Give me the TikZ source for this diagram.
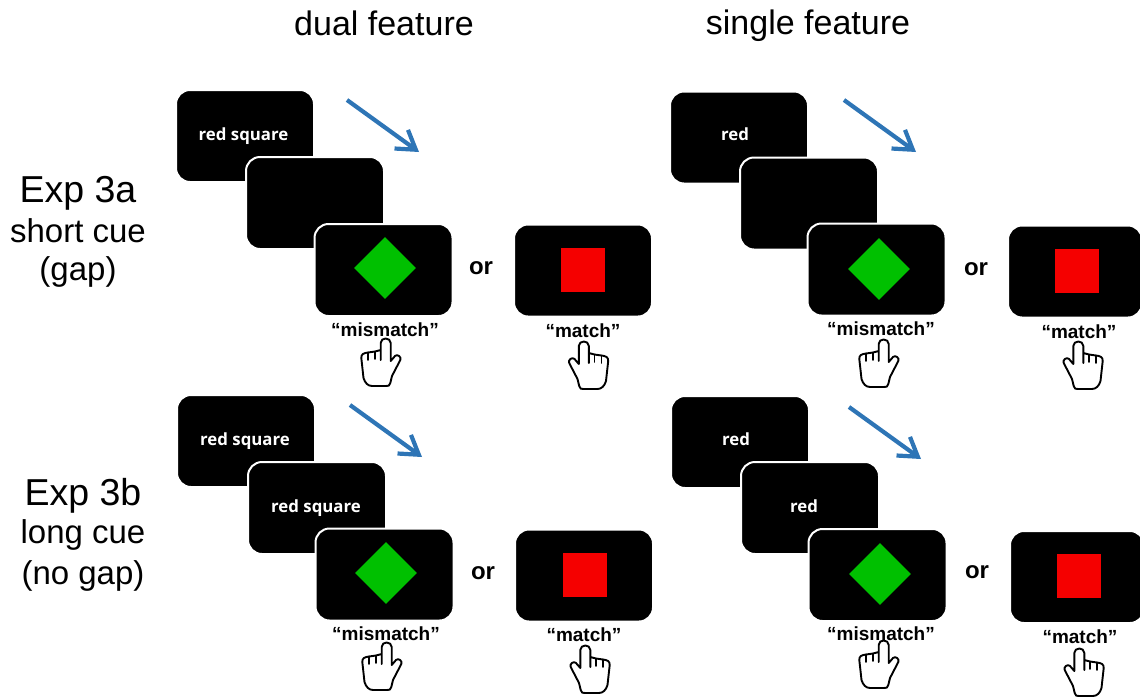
\documentclass[tikz,border=0pt]{standalone}
\usepackage{fontspec}
\setmainfont{Liberation Sans}
\newfontfamily\screenfont{Open Sans}
\usetikzlibrary{shapes.geometric}
\usetikzlibrary{arrows.meta}

\begin{document}
\begin{tikzpicture}[
  x=1pt, y=-1pt,
  screen/.style={draw=white,line width=2pt,fill=black,rounded corners=14pt,
    minimum width=138pt,minimum height=92pt,inner sep=0pt},
  cutscreen/.style={screen,minimum width=134pt},
  label/.style={text=white,font=\screenfont\bfseries\fontsize{16.8}{18}\selectfont},
  flow/.style={draw={rgb,255:red,46;green,117;blue,182},line width=4.2pt,
    -{Straight Barb[length=18pt,width=23pt,line width=4.2pt]}},
  greendiamond/.style={diamond,fill={rgb,255:red,0;green,192;blue,0},minimum size=62pt,inner sep=0pt},
  redsquare/.style={rectangle,fill={rgb,255:red,245;green,0;blue,0},minimum size=44pt,inner sep=0pt},
  heading/.style={font=\fontsize{34}{40}\selectfont},
  expname/.style={font=\fontsize{37.5}{42}\selectfont},
  cond/.style={font=\fontsize{33}{38}\selectfont},
  answer/.style={font=\bfseries\fontsize{19}{22}\selectfont},
  orword/.style={font=\bfseries\fontsize{24}{26}\selectfont},
  hand/.pic={
    \draw[line width=1.9pt,line join=round,line cap=round,fill=white]
      (-1.3,-3) -- (-1.3,-20) .. controls (-1.3,-26) and (8.7,-26) .. (8.7,-20)
      -- (8.7,-2) -- (13,-7) .. controls (15,-9.5) and (20,-6) .. (18.3,-3)
      -- (10,13) -- (8.3,20) .. controls (8,23) and (6,23) .. (4,23)
      -- (-10,23) .. controls (-14,23) and (-17,20) .. (-18.5,15)
      -- (-20.7,-5) .. controls (-21,-9) and (-18,-10) .. (-14,-10.5)
      -- (-7,-11.5) -- (-1.3,-13);
    \draw[line width=1.6pt,line cap=round] (-14,-10.5) -- (-14,-3);
    \draw[line width=1.6pt,line cap=round] (-7,-11.5) -- (-7,-4);
  }
]
  \useasboundingbox (0,0) rectangle (1140,697);

  \node[heading] (t1) at (384,23) {dual feature};
  \node[heading] (t2) at (808,26) {single feature};

  \node[expname] (l1) at (78,193) {Exp 3a};
  \node[cond] (l2) at (78,231) {short cue};
  \node[cond] (l3) at (78,272) {(gap)};
  \node[expname] (l4) at (83,496) {Exp 3b};
  \node[cond] (l5) at (83,535) {long cue};
  \node[cond] (l6) at (83,576) {(no gap)};

  % exp 3a, dual
  \node[screen] (a1) at (245,136) {};
  \node[label] (a12) at (243.5,136) {red square};
  \node[screen] (a2) at (315,203) {};
  \node[screen] (a3) at (383.5,270) {};
  \node[greendiamond] (a4) at (385,268) {};
  \node[screen] (a5) at (583,270.5) {};
  \node[redsquare] (a6) at (583,270) {};
  \node[orword] (a7) at (481,268) {or};
  \node[answer] (a8) at (385,330) {“mismatch”};
  \node[answer] (a9) at (583,331) {“match”};
  \pic at (382,363) {hand};
  \pic[xscale=-1] at (587.5,366) {hand};
  \coordinate (a10) at (347,100);
  \coordinate (a11) at (419,152);
  \draw[flow] (a10) -- (a11);

  % exp 3a, single
  \node[screen] (b1) at (739,137.5) {};
  \node[label] (b12) at (735,134) {red};
  \node[screen] (b2) at (809,203.5) {};
  \node[screen] (b3) at (876.5,269.5) {};
  \node[greendiamond] (b4) at (879,269) {};
  \node[cutscreen] (b5) at (1075,271.5) {};
  \node[redsquare] (b6) at (1077,271) {};
  \node[orword] (b7) at (976,269) {or};
  \node[answer] (b8) at (881,329) {“mismatch”};
  \node[answer] (b9) at (1079,332) {“match”};
  \pic at (880,364) {hand};
  \pic[xscale=-1] at (1082,366) {hand};
  \coordinate (b10) at (844,100);
  \coordinate (b11) at (916,152);
  \draw[flow] (b10) -- (b11);

  % exp 3b, dual
  \node[screen] (c1) at (246,441) {};
  \node[label] (c12) at (245,441) {red square};
  \node[screen] (c2) at (317,508) {};
  \node[label] (c13) at (316,508) {red square};
  \node[screen] (c3) at (384.5,574.5) {};
  \node[greendiamond] (c4) at (386,573) {};
  \node[screen] (c5) at (584,575.5) {};
  \node[redsquare] (c6) at (585,575) {};
  \node[orword] (c7) at (483,573) {or};
  \node[answer] (c8) at (386,634) {“mismatch”};
  \node[answer] (c9) at (584,635) {“match”};
  \pic at (383,667) {hand};
  \pic[xscale=-1] at (589,670) {hand};
  \coordinate (c10) at (350,405);
  \coordinate (c11) at (422,457);
  \draw[flow] (c10) -- (c11);

  % exp 3b, single
  \node[screen] (d1) at (740,442) {};
  \node[label] (d12) at (736,439) {red};
  \node[screen] (d2) at (810,508) {};
  \node[label] (d13) at (804,506) {red};
  \node[screen] (d3) at (877.5,575) {};
  \node[greendiamond] (d4) at (880,574) {};
  \node[cutscreen] (d5) at (1077,577) {};
  \node[redsquare] (d6) at (1079,576) {};
  \node[orword] (d7) at (977,572) {or};
  \node[answer] (d8) at (881,634) {“mismatch”};
  \node[answer] (d9) at (1080,637) {“match”};
  \pic at (880,665) {hand};
  \pic[xscale=-1] at (1083,673) {hand};
  \coordinate (d10) at (849,407);
  \coordinate (d11) at (921,459);
  \draw[flow] (d10) -- (d11);
\end{tikzpicture}
\end{document}
